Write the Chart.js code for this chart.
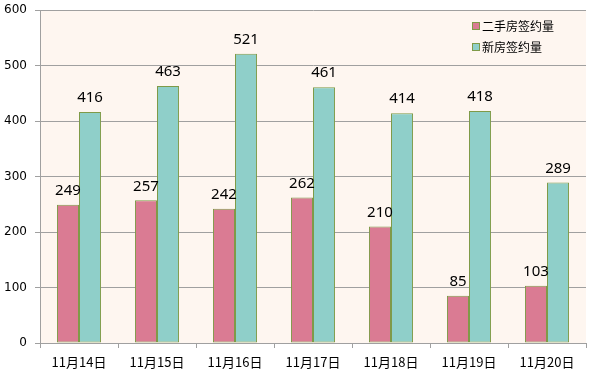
<!DOCTYPE html>
<html><head><meta charset="utf-8">
<script src="https://cdn.jsdelivr.net/npm/chart.js@4/dist/chart.umd.min.js"></script>
<style>html,body{margin:0;padding:0;background:#fff}#wrap{width:592px;height:379px}</style>
</head><body><div id="wrap"><canvas id="c" width="592" height="379"></canvas></div>
<script>
const categories = ['11月14日','11月15日','11月16日','11月17日','11月18日','11月19日','11月20日'];
const secondHand = [249,257,242,262,210,85,103];
const newHouse = [416,463,521,461,414,418,289];
const seriesNames = ['二手房签约量','新房签约量'];
const yTicks = [0,100,200,300,400,500,600];

const bgPlugin = {
  id:'bg',
  beforeDraw(chart){
    const {ctx, chartArea:a} = chart;
    ctx.save(); ctx.fillStyle='#FEF6F0';
    ctx.fillRect(a.left,a.top,a.right-a.left,a.bottom-a.top);
    ctx.restore();
  },
  afterDatasetsDraw(chart){
    const ctx = chart.ctx;
    ctx.save();
    ctx.fillStyle='#000'; ctx.font='15px "Noto Sans", sans-serif';
    ctx.textAlign='center'; ctx.textBaseline='middle';
    chart.data.datasets.forEach((ds,i)=>{
      chart.getDatasetMeta(i).data.forEach((el,j)=>{
        ctx.fillText(String(ds.data[j]), el.x, el.y-14);
      });
    });
    ctx.font='12px "Noto Sans CJK SC", sans-serif';
    ctx.textAlign='left';
    chart.data.datasets.forEach((ds,i)=>{
      const y = 26 + i*21;
      ctx.fillStyle = ds.backgroundColor;
      ctx.fillRect(472.5, y-3.5, 7, 7);
      ctx.strokeStyle = ds.borderColor; ctx.lineWidth=1;
      ctx.strokeRect(472.5, y-3.5, 7, 7);
      ctx.fillStyle='#000';
      ctx.fillText(ds.label, 482, y);
    });
    ctx.restore();
  }
};

new Chart(document.getElementById('c'), {
  type:'bar',
  data:{
    labels:categories,
    datasets:[
      {label:seriesNames[0], data:secondHand, backgroundColor:'#DA7B93', borderColor:'#7F9A48', borderWidth:1, borderSkipped:false, barPercentage:1, categoryPercentage:0.565},
      {label:seriesNames[1], data:newHouse, backgroundColor:'#8FCFC9', borderColor:'#7F9A48', borderWidth:1, borderSkipped:false, barPercentage:1, categoryPercentage:0.565}
    ]
  },
  options:{
    responsive:false, animation:false,
    layout:{padding:{top:10,right:6,left:0,bottom:0}},
    plugins:{legend:{display:false}, tooltip:{enabled:false}},
    scales:{
      x:{
        grid:{display:true, drawOnChartArea:false, color:'#A0A0A0', tickLength:5, offset:true},
        border:{color:'#A0A0A0'},
        ticks:{color:'#000', font:{family:'"Noto Sans CJK SC"', size:13}, padding:6, maxRotation:0},
        afterFit(s){ s.height = 36; s.paddingLeft = 0; s.paddingRight = 0; }
      },
      y:{
        min:0, max:600,
        afterBuildTicks(s){ s.ticks = yTicks.map(v=>({value:v})); },
        grid:{color:'#A0A0A0', tickLength:5},
        border:{color:'#A0A0A0'},
        ticks:{color:'#000', font:{family:'"DejaVu Sans"', size:12}, padding:8},
        afterFit(s){ s.width = 40; s.paddingTop = 0; s.paddingBottom = 0; }
      }
    }
  },
  plugins:[bgPlugin]
});
</script></body></html>
